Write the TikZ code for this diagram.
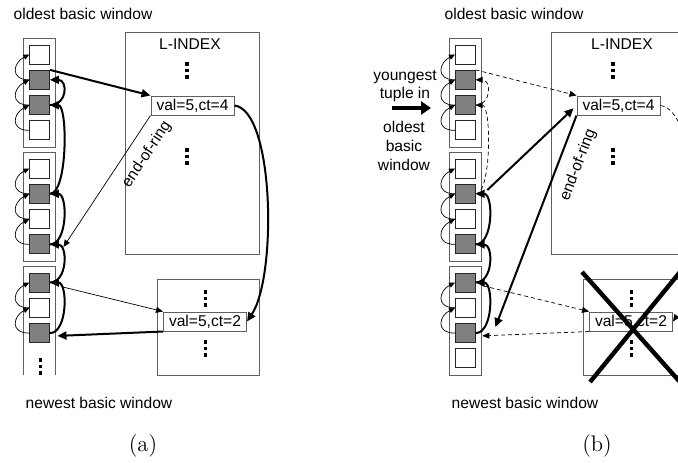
\documentclass[tikz,border=0pt]{standalone}
\usepackage{fontspec}
\usepackage{tikz}
\usetikzlibrary{arrows.meta}
\newfontfamily\figfont{Liberation Sans}
\newcommand{\figtxt}{\figfont\fontsize{7.8}{9.4}\selectfont}
\definecolor{cellgray}{RGB}{128,128,128}
\definecolor{framec}{RGB}{95,95,95}
% three square dots, top of the first one at (#1,#2)
\newcommand{\sqdots}[2]{\foreach \dy in {0,6.5,13} \fill (#1-1.8,#2+\dy) rectangle ++(3.6,3.6);}

\tikzset{
  cell/.style={draw=black!85, line width=0.45pt, minimum width=9.8pt, minimum height=9.5pt, inner sep=0pt},
  win/.style={draw=framec, line width=0.5pt},
  valbox/.style={draw=framec, line width=0.5pt, fill=white, minimum width=41.5pt, minimum height=9.5pt, inner sep=0pt},
  prev/.style={line width=0.35pt, >={Triangle[length=3pt,width=2.6pt]}},
  thinln/.style={line width=0.35pt, >={Triangle[length=3.5pt,width=3pt]}},
  dashln/.style={thinln, dash pattern=on 2pt off 1.5pt},
  boldln/.style={line width=1pt, >={Triangle[length=4.5pt,width=4pt]}},
  ring/.style={sloped, below=5pt, inner sep=0.5pt},
  capt/.style={font=\normalfont\fontsize{11.3}{13}\selectfont}
}

\begin{document}
\begin{tikzpicture}[x=0.5pt, y=-0.5pt, font=\figtxt]
  \useasboundingbox (0,0) rectangle (678,462);
  \clip (0,0) rectangle (678,462);

  %% ---------------- (a) ----------------
  \node (aold) at (83,14) {oldest basic window};
  \node (anew) at (99,403) {newest basic window};
  % basic windows
  \draw[win] (23,38) rectangle (55,147);
  \draw[win] (23,152) rectangle (55,261);
  \draw[win] (23,375) |- (55,266) -- (55,375);
  \foreach \i/\y/\f in {1/54.5/white, 2/79.8/cellgray, 3/105.1/cellgray, 4/130.4/white,
                        5/168.5/white, 6/193.8/cellgray, 7/219.1/white, 8/244.4/cellgray,
                        9/282.5/cellgray, 10/307.8/white, 11/333.1/cellgray}
    \node[cell, fill=\f] (a\i) at (39.6,\y) {};
  \sqdots{40.5}{358}
  % links inside a basic window
  \foreach \s/\t in {2/1,3/2,4/3,6/5,7/6,8/7,10/9,11/10}
    \draw[prev, ->] (a\s.west) .. controls +(-20,0) and +(-16,8) .. (a\t.west);
  % tuples with the same value
  \foreach \s/\t in {3/2,6/3,8/6,9/8,11/9}
    \draw[boldln, ->] (a\s.east) .. controls +(18,0) and +(18,0) .. (a\t.east);
  % L-INDEX
  \draw[win] (125,32) rectangle (259,254);
  \node (aidx) at (190,44) {L-INDEX};
  \sqdots{187}{62}
  \sqdots{187}{148}
  \node[valbox] (av4) at (192.5,105.5) {val=5,ct=4};
  \draw[win] (157,279) rectangle (259,375);
  \sqdots{205.5}{290}
  \sqdots{205.5}{340}
  \node[valbox] (av2) at (205,321.5) {val=5,ct=2};
  % pointers
  \coordinate (aer) at ([xshift=6.8pt,yshift=-1.3pt]a8.east);
  \coordinate (a9o) at ([xshift=6.3pt,yshift=-2.2pt]a9.east);
  \coordinate (a11o) at ([xshift=3.8pt,yshift=-1.4pt]a11.east);
  \draw[boldln, ->] (a2.north east) -- (av4.north west);
  \draw[thinln, <-] (aer) -- node[ring, pos=.78] {end-of-ring} (av4.south west);
  \draw[thinln, ->] (a9o) -- (av2.north west);
  \draw[boldln, ->] (av2.south west) -- (a11o);
  \draw[boldln, ->] (av4.east) .. controls +(40,5) and +(30,-45) .. (av2.east);
  \node[capt] (acap) at (143,446) {(a)};

  %% ---------------- (b) ----------------
  \node (bold) at (514,14) {oldest basic window};
  \node (bnew) at (525,403) {newest basic window};
  \draw[win] (449,38) rectangle (481,147);
  \draw[win] (449,152) rectangle (481,261);
  \draw[win] (449,266) rectangle (481,375);
  \foreach \i/\y/\f in {1/54.5/white, 2/79.8/cellgray, 3/105.1/cellgray, 4/130.4/white,
                        5/168.5/white, 6/193.8/cellgray, 7/219.1/white, 8/244.4/cellgray,
                        9/282.5/cellgray, 10/307.8/white, 11/333.1/cellgray, 12/358.4/white}
    \node[cell, fill=\f] (b\i) at (465.3,\y) {};
  \foreach \s/\t in {2/1,3/2,4/3,6/5,7/6,8/7,10/9,11/10}
    \draw[prev, ->] (b\s.west) .. controls +(-20,0) and +(-16,8) .. (b\t.west);
  \foreach \s/\t in {3/2,6/3}
    \draw[dashln, ->] (b\s.east) .. controls +(16,0) and +(16,0) .. (b\t.east);
  \foreach \s/\t in {8/6,9/8,11/9}
    \draw[boldln, ->] (b\s.east) .. controls +(18,0) and +(18,0) .. (b\t.east);
  % new tuple
  \node[align=center] (byt) at (405,86) {youngest\\tuple in};
  \node[align=center] (bobw) at (404,146) {oldest\\basic\\window};
  \coordinate (yin) at (392,108);
  \coordinate (yout) at (431,108);
  \draw[line width=2pt, -{Triangle[length=5pt,width=6.5pt]}] (yin) -- (yout);
  % L-INDEX
  \draw[win] (551,32) rectangle (685,254);
  \node (bidx) at (622,44) {L-INDEX};
  \sqdots{613}{62}
  \sqdots{613}{148}
  \node[valbox] (bv4) at (618.5,105.5) {val=5,ct=4};
  \draw[win] (583,279) rectangle (685,375);
  \sqdots{631.5}{290}
  \sqdots{631.5}{340}
  \node[valbox] (bv2) at (631,321.5) {val=5,ct=2};
  % pointers
  \coordinate (b6o) at ([xshift=5.9pt,yshift=1.9pt]b6.east);
  \coordinate (ber) at ([xshift=9.9pt,yshift=3pt]b11.east);
  \coordinate (b9o) at ([xshift=3.9pt,yshift=-1.7pt]b9.east);
  \coordinate (b11o) at ([xshift=3.4pt,yshift=-1.4pt]b11.east);
  \draw[dashln, ->] (b2.north east) -- (bv4.north west);
  \draw[boldln, ->, shorten >=2pt] (b6o) -- (bv4.west);
  \draw[boldln, <-] (ber) -- node[ring, pos=.8] {end-of-ring} (bv4.south west);
  \draw[dashln, ->] (b9o) -- (bv2.north west);
  \draw[dashln, ->] (bv2.south west) -- (b11o);
  \draw[dashln, ->] (bv4.east) .. controls +(40,5) and +(30,-45) .. (bv2.east);
  % dropped block
  \draw[line width=2.2pt] (582,272) -- (680,382);
  \draw[line width=2.2pt] (590,382) -- (680,272);
  \node[capt] (bcap) at (597,446) {(b)};
\end{tikzpicture}
\end{document}
